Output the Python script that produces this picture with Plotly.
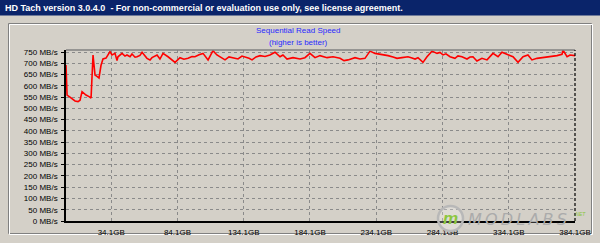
import plotly.graph_objects as go

# ---- data ----
position_gb = [0.0, 0.8, 3.0, 5.3, 6.8, 9.1, 10.6, 12.1, 13.6, 15.1, 17.4, 18.9, 20.4, 21.9, 23.4, 24.9,
               26.4, 27.9, 30.2, 31.7, 33.2, 34.7, 37.0, 38.5, 39.2, 42.3, 44.5, 46.0, 48.3, 49.8, 52.1,
               53.6, 55.8, 57.4, 59.6, 61.1, 63.4, 64.9, 68.7, 70.9, 73.2, 77.0, 82.3, 86.0, 89.0, 92.1,
               95.1, 97.3, 100.4, 103.4, 107.2, 110.9, 113.9, 117.0, 120.0, 123.0, 125.3, 129.8, 132.8,
               135.1, 138.1, 140.4, 143.4, 146.4, 150.2, 153.9, 157.7, 161.5, 163.7, 166.8, 171.3, 176.6,
               180.3, 184.1, 187.9, 191.7, 197.0, 201.5, 206.8, 209.8, 212.8, 218.1, 221.9, 225.6, 229.4,
               233.2, 238.5, 243.0, 246.8, 249.8, 253.5, 258.1, 261.1, 263.4, 265.6, 267.9, 269.4, 272.4,
               276.2, 280.0, 282.2, 284.5, 286.7, 289.8, 293.5, 295.8, 298.8, 302.6, 304.9, 307.1, 310.1,
               313.9, 317.7, 322.2, 326.0, 329.0, 333.5, 337.3, 341.1, 343.3, 344.9, 348.6, 351.6, 355.4,
               359.9, 365.2, 370.5, 374.3, 375.0, 378.1, 380.4, 384.1]
read_speed = [692, 559, 550, 540, 533, 530, 536, 574, 565, 559, 552, 546, 737, 648, 642, 635,
              690, 719, 723, 735, 752, 737, 744, 712, 729, 744, 732, 737, 729, 741, 727,
              729, 735, 749, 733, 722, 715, 725, 737, 719, 744, 729, 704, 725, 718, 722,
              730, 729, 738, 744, 715, 756, 737, 725, 715, 728, 725, 719, 732,
              729, 722, 715, 728, 734, 730, 737, 749, 729, 737, 719, 725, 719,
              725, 744, 725, 734, 725, 729, 722, 712, 715, 725, 719, 722, 754,
              744, 740, 734, 728, 722, 725, 729, 724, 719, 725, 712, 704, 729,
              754, 744, 748, 737, 742, 729, 722, 733, 729, 719, 728, 729, 710,
              722, 715, 744, 729, 749, 737, 729, 704, 716, 729, 737, 715, 722,
              725, 729, 734, 740, 759, 729, 737, 734]

y_tick_vals = [0, 50, 100, 150, 200, 250, 300, 350, 400, 450, 500, 550, 600, 650, 700, 750]
y_tick_text = ["0 MB/s", "50 MB/s", "100 MB/s", "150 MB/s", "200 MB/s", "250 MB/s", "300 MB/s",
               "350 MB/s", "400 MB/s", "450 MB/s", "500 MB/s", "550 MB/s", "600 MB/s", "650 MB/s",
               "700 MB/s", "750 MB/s"]
x_tick_vals = [34.1, 84.1, 134.1, 184.1, 234.1, 284.1, 334.1, 384.1]
x_tick_text = ["34.1GB", "84.1GB", "134.1GB", "184.1GB", "234.1GB", "284.1GB", "334.1GB", "384.1GB"]

window_title = "HD Tach version 3.0.4.0  - For non-commercial or evaluation use only, see license agreement."
chart_title_1 = "Sequential Read Speed"
chart_title_2 = "(higher is better)"

# ---- layout geometry ----
W, H = 600, 243
L, R, T, B = 66, 25, 50, 22
PW, PH = W - L - R, H - T - B
BG = "#d4d0c8"
FONT = "Liberation Sans, Arial, sans-serif"


def px(x):
    return (x - L) / PW


def py(y):
    return (H - B - y) / PH


fig = go.Figure()
fig.add_trace(go.Scatter(x=position_gb, y=read_speed, mode="lines",
                         line=dict(color="#ff0000", width=1.6), hoverinfo="skip",
                         showlegend=False))

shapes = []
# window title bar
shapes.append(dict(type="rect", xref="paper", yref="paper", x0=px(-2), x1=px(602),
                   y0=py(15.5), y1=py(-2), fillcolor="#0a246a", line=dict(width=0), layer="below"))
# inset panel (groove)
shapes.append(dict(type="rect", xref="paper", yref="paper", x0=px(8.5), x1=px(591.5),
                   y0=py(233.5), y1=py(23.5), line=dict(color="#808080", width=1), layer="below"))
shapes.append(dict(type="rect", xref="paper", yref="paper", x0=px(9.5), x1=px(592.5),
                   y0=py(234.5), y1=py(24.5), line=dict(color="#ffffff", width=1), layer="below"))
# plot frame: top gray solid, right black dashed
shapes.append(dict(type="line", xref="paper", yref="paper", x0=0, x1=1, y0=1, y1=1,
                   line=dict(color="#808080", width=1.5)))
shapes.append(dict(type="line", xref="paper", yref="paper", x0=1, x1=1, y0=0, y1=1,
                   line=dict(color="#000000", width=1.2, dash="3px,2px")))
# watermark circle
shapes.append(dict(type="circle", xref="paper", yref="paper", x0=px(438), x1=px(463),
                   y0=py(231), y1=py(206), line=dict(color="#b8b8b8", width=2.5),
                   fillcolor="rgba(255,255,255,0.25)"))

thin = "\u2009"
annotations = [
    dict(text="<b>" + window_title + "</b>", xref="paper", yref="paper", x=px(3), y=py(7.5),
         xanchor="left", yanchor="middle", showarrow=False,
         font=dict(family=FONT, size=9, color="#ffffff")),
    dict(text=chart_title_1, xref="paper", yref="paper", x=px(298.5), y=py(30.5),
         xanchor="center", yanchor="middle", showarrow=False,
         font=dict(family=FONT, size=8, color="#2a2aff")),
    dict(text=chart_title_2, xref="paper", yref="paper", x=px(298.5), y=py(42),
         xanchor="center", yanchor="middle", showarrow=False,
         font=dict(family=FONT, size=8, color="#2a2aff")),
    dict(text="<b><i>m</i></b>", xref="paper", yref="paper", x=px(450.5), y=py(218),
         xanchor="center", yanchor="middle", showarrow=False,
         font=dict(family=FONT, size=17, color="#8cc63f")),
    dict(text="<i>" + thin.join("MODLABS") + "</i>", xref="paper", yref="paper", x=px(466), y=py(219),
         xanchor="left", yanchor="middle", showarrow=False,
         font=dict(family="DejaVu Sans, sans-serif", size=16, color="#ababab")),
    dict(text="<i>.NET</i>", xref="paper", yref="paper", x=px(572), y=py(214),
         xanchor="left", yanchor="middle", showarrow=False,
         font=dict(family=FONT, size=5, color="#8cc63f")),
]

fig.update_layout(
    width=W, height=H,
    margin=dict(l=L, r=R, t=T, b=B, pad=0),
    paper_bgcolor=BG, plot_bgcolor=BG,
    shapes=shapes, annotations=annotations,
    font=dict(family=FONT, size=8, color="#000000"),
    xaxis=dict(range=[0, 384.1], tickvals=x_tick_vals, ticktext=x_tick_text,
               showgrid=True, gridcolor="#8a8a8a", griddash="3px,3px", gridwidth=1,
               showline=True, linecolor="#000000", linewidth=1.5,
               ticks="", ticklabelstandoff=3, zeroline=False, automargin=False,
               tickfont=dict(family=FONT, size=8, color="#000000"), fixedrange=True),
    yaxis=dict(range=[0, 759], tickvals=y_tick_vals, ticktext=y_tick_text,
               showgrid=True, gridcolor="#8a8a8a", griddash="3px,3px", gridwidth=1,
               showline=True, linecolor="#000000", linewidth=1.5,
               ticks="outside", ticklen=3, tickcolor="#000000", tickwidth=1,
               ticklabelstandoff=2, zeroline=False, automargin=False,
               tickfont=dict(family=FONT, size=8, color="#000000"), fixedrange=True),
)

fig.write_html("out.html", config={"displayModeBar": False})
